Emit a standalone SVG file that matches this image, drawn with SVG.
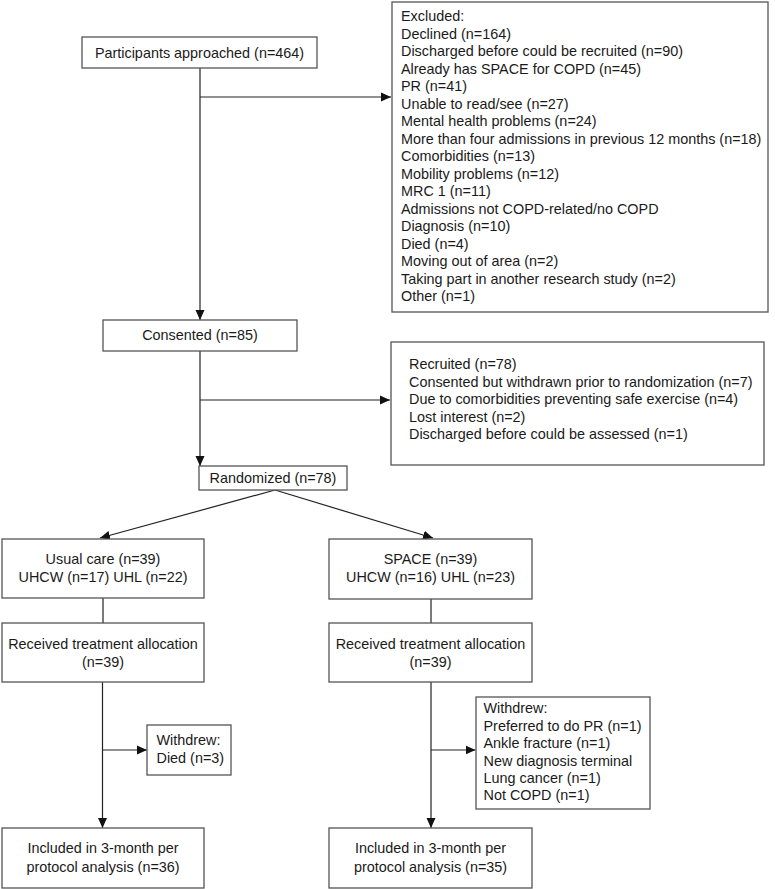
<svg xmlns="http://www.w3.org/2000/svg" width="775" height="889" viewBox="0 0 775 889">
<style>
.box{fill:#fff;stroke:#555;stroke-width:1.3}
.t{font-family:"Liberation Sans",Arial,sans-serif;font-size:14.4px;fill:#1a1a1a}
.c{text-anchor:middle}
.ln{fill:none;stroke:#222;stroke-width:1.2}
</style>
<defs>
<marker id="ah" markerUnits="userSpaceOnUse" markerWidth="12" markerHeight="10" refX="10" refY="5" orient="auto">
<path d="M0,0.5 L10,5 L0,9.5 Z" fill="#111"/>
</marker>
</defs>
<rect width="775" height="889" fill="#fff"/>
<g id="connectors">
<line class="ln" x1="200" y1="68" x2="200" y2="320" marker-end="url(#ah)"/>
<line class="ln" x1="200" y1="97" x2="391" y2="97" marker-end="url(#ah)"/>
<line class="ln" x1="200" y1="351" x2="200" y2="466" marker-end="url(#ah)"/>
<line class="ln" x1="200" y1="400" x2="390" y2="400" marker-end="url(#ah)"/>
<line class="ln" x1="275" y1="490" x2="100" y2="538" marker-end="url(#ah)"/>
<line class="ln" x1="275" y1="490" x2="433" y2="538" marker-end="url(#ah)"/>
<line class="ln" x1="103" y1="598" x2="103" y2="623"/>
<line class="ln" x1="431" y1="599" x2="431" y2="623"/>
<line class="ln" x1="102.5" y1="682" x2="102.5" y2="828" marker-end="url(#ah)"/>
<line class="ln" x1="102.5" y1="750" x2="147" y2="750" marker-end="url(#ah)"/>
<line class="ln" x1="431" y1="682" x2="431" y2="828" marker-end="url(#ah)"/>
<line class="ln" x1="431" y1="750" x2="475.5" y2="750" marker-end="url(#ah)"/>
</g>
<g id="approached">
<rect class="box" x="82" y="37" width="235" height="31"/>
<text class="t c" x="199.5" y="58">Participants approached (n=464)</text>
</g>
<g id="excluded">
<rect class="box" x="392" y="2" width="376" height="310"/>
<text class="t" x="401" y="21">
<tspan x="401">Excluded:</tspan>
<tspan x="401" dy="17.5">Declined (n=164)</tspan>
<tspan x="401" dy="17.5">Discharged before could be recruited (n=90)</tspan>
<tspan x="401" dy="17.5">Already has SPACE for COPD (n=45)</tspan>
<tspan x="401" dy="17.5">PR (n=41)</tspan>
<tspan x="401" dy="17.5">Unable to read/see (n=27)</tspan>
<tspan x="401" dy="17.5">Mental health problems (n=24)</tspan>
<tspan x="401" dy="17.5">More than four admissions in previous 12 months (n=18)</tspan>
<tspan x="401" dy="17.5">Comorbidities (n=13)</tspan>
<tspan x="401" dy="17.5">Mobility problems (n=12)</tspan>
<tspan x="401" dy="17.5">MRC 1 (n=11)</tspan>
<tspan x="401" dy="17.5">Admissions not COPD-related/no COPD</tspan>
<tspan x="401" dy="17.5">Diagnosis (n=10)</tspan>
<tspan x="401" dy="17.5">Died (n=4)</tspan>
<tspan x="401" dy="17.5">Moving out of area (n=2)</tspan>
<tspan x="401" dy="17.5">Taking part in another research study (n=2)</tspan>
<tspan x="401" dy="17.5">Other (n=1)</tspan>
</text>
</g>
<g id="consented">
<rect class="box" x="103" y="320" width="194" height="31"/>
<text class="t c" x="200" y="340">Consented (n=85)</text>
</g>
<g id="recruited">
<rect class="box" x="391" y="342" width="373" height="123"/>
<text class="t" x="409" y="369.3">
<tspan x="409">Recruited (n=78)</tspan>
<tspan x="409" dy="17.4">Consented but withdrawn prior to randomization (n=7)</tspan>
<tspan x="409" dy="17.4">Due to comorbidities preventing safe exercise (n=4)</tspan>
<tspan x="409" dy="17.4">Lost interest (n=2)</tspan>
<tspan x="409" dy="17.4">Discharged before could be assessed (n=1)</tspan>
</text>
</g>
<g id="randomized">
<rect class="box" x="199" y="466" width="148" height="24"/>
<text class="t c" x="273" y="483">Randomized (n=78)</text>
</g>
<g id="usualcare">
<rect class="box" x="2" y="539" width="202" height="59"/>
<text class="t c" x="103" y="564">Usual care (n=39)</text>
<text class="t c" x="103" y="582.3">UHCW (n=17) UHL (n=22)</text>
</g>
<g id="space">
<rect class="box" x="329" y="539" width="203" height="60"/>
<text class="t c" x="430.5" y="564">SPACE (n=39)</text>
<text class="t c" x="430.5" y="582.3">UHCW (n=16) UHL (n=23)</text>
</g>
<g id="received-left">
<rect class="box" x="2" y="623" width="202" height="59"/>
<text class="t c" x="103" y="649">Received treatment allocation</text>
<text class="t c" x="103" y="667">(n=39)</text>
</g>
<g id="received-right">
<rect class="box" x="329" y="623" width="203" height="59"/>
<text class="t c" x="430.5" y="649">Received treatment allocation</text>
<text class="t c" x="430.5" y="667">(n=39)</text>
</g>
<g id="withdrew-left">
<rect class="box" x="147" y="725" width="84" height="50"/>
<text class="t" x="156.5" y="745">Withdrew:</text>
<text class="t" x="156.5" y="763">Died (n=3)</text>
</g>
<g id="withdrew-right">
<rect class="box" x="476" y="697" width="174" height="112"/>
<text class="t" x="483.5" y="713.3">
<tspan x="483.5">Withdrew:</tspan>
<tspan x="483.5" dy="17.4">Preferred to do PR (n=1)</tspan>
<tspan x="483.5" dy="17.4">Ankle fracture (n=1)</tspan>
<tspan x="483.5" dy="17.4">New diagnosis terminal</tspan>
<tspan x="483.5" dy="17.4">Lung cancer (n=1)</tspan>
<tspan x="483.5" dy="17.4">Not COPD (n=1)</tspan>
</text>
</g>
<g id="included-left">
<rect class="box" x="2" y="828" width="202" height="60"/>
<text class="t c" x="103" y="853.3">Included in 3-month per</text>
<text class="t c" x="103" y="871.7">protocol analysis (n=36)</text>
</g>
<g id="included-right">
<rect class="box" x="329" y="828" width="203" height="60"/>
<text class="t c" x="430.5" y="853.3">Included in 3-month per</text>
<text class="t c" x="430.5" y="871.7">protocol analysis (n=35)</text>
</g>
</svg>
